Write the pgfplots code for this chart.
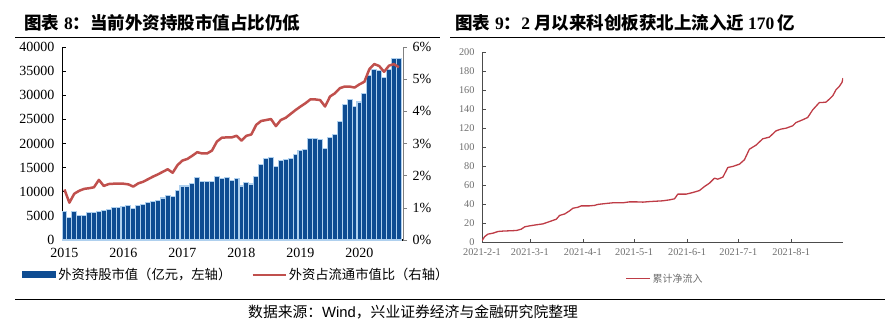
\documentclass[border=0pt]{standalone}
\usepackage{fontspec}
\setmainfont{Liberation Serif}
\newfontfamily\cjk{Noto Sans CJK SC}
\newfontfamily\arialf{Liberation Sans}
\usepackage{pgfplots}
\usepackage{pgfplotstable}
\pgfplotsset{compat=1.18}
\definecolor{barblue}{RGB}{14,76,146}
\definecolor{barlight}{RGB}{175,208,238}
\definecolor{linered}{RGB}{192,80,77}
\definecolor{linetwo}{RGB}{190,60,70}
\definecolor{axgray}{RGB}{128,128,128}
\definecolor{txtgray}{RGB}{110,110,110}

\pgfplotstableread{
idx val
0 6000
1 4600
2 6000
3 5000
4 5000
5 5700
6 5700
7 5900
8 6100
9 6300
10 6700
11 6700
12 6900
13 7200
14 6600
15 7100
16 7400
17 7800
18 7900
19 8100
20 8700
21 9300
22 9100
23 10200
24 11200
25 11200
26 11700
27 12900
28 12100
29 12100
30 12100
31 13200
32 12800
33 13000
34 12300
35 12800
36 11200
37 11900
38 11600
39 13200
40 15700
41 16900
42 17100
43 15200
44 16400
45 16600
46 16900
47 17800
48 18500
49 18800
50 21000
51 21000
52 20900
53 19000
54 21200
55 21900
56 24600
57 28100
58 29100
59 27600
60 28600
61 30300
62 34100
63 35300
64 35200
65 33700
66 35300
67 37600
68 37600
}\bars

\pgfplotstableread{
idx pct
0 1.57
1 1.16
2 1.44
3 1.53
4 1.59
5 1.61
6 1.64
7 1.87
8 1.68
9 1.74
10 1.75
11 1.75
12 1.75
13 1.73
14 1.66
15 1.76
16 1.81
17 1.89
18 1.97
19 2.04
20 2.12
21 2.20
22 2.09
23 2.33
24 2.47
25 2.52
26 2.62
27 2.73
28 2.69
29 2.69
30 2.78
31 3.06
32 3.18
33 3.19
34 3.19
35 3.24
36 3.09
37 3.24
38 3.28
39 3.58
40 3.70
41 3.73
42 3.76
43 3.54
44 3.73
45 3.80
46 3.92
47 4.04
48 4.15
49 4.25
50 4.37
51 4.37
52 4.35
53 4.15
54 4.46
55 4.56
56 4.72
57 4.77
58 4.77
59 4.74
60 4.84
61 4.92
62 5.31
63 5.47
64 5.41
65 5.23
66 5.42
67 5.47
68 5.37
}\ratio

\pgfplotstableread{
day val
0 2
1.6 6.3
3.5 8.8
6.4 9.8
9.4 11.6
12.3 12
16.2 12.3
20.1 12.6
23 14
25 16.5
27.9 17.5
31.8 18.6
35.7 19.6
39.6 22
43.5 24.5
45.4 28.4
48.4 30
51.3 33.3
53.2 36
56.1 37
58.1 38.5
63 38.5
65.9 39
67.8 40
72.7 41
76.6 41.7
82.5 41.7
86.4 42.7
90.3 42.7
94.2 42.4
98.1 43
102 43.4
105.9 43.8
109.8 44.8
112.7 45.9
114.6 50.8
119.5 50.8
123.4 52.5
127.3 54.6
130.2 58.8
133.1 62.3
136.1 67.6
138 66.5
141 68.7
143.9 78.8
146.8 79.9
150.7 82.3
153.6 86.9
156.5 98
160.4 102.3
164.3 108.9
168.2 110.7
172.1 117.3
175 119.1
178 120.1
181.9 122.6
183.8 126
187.7 128.9
190.6 131.3
193.6 139.4
197.5 147.1
199.4 147.1
201.4 147.5
203.3 150.6
205.3 154.1
207.2 160.4
209.1 163.9
210.7 168.1
211.3 172.7
}\flow

\begin{document}
\begin{tikzpicture}
\path[use as bounding box] (0pt,0pt) rectangle (892pt,-332pt);

% titles and rules
\node[anchor=base west, inner sep=0pt] at (24pt,-30pt)
  {\fontsize{17.5}{19}\selectfont\cjk\bfseries 图表\hspace{5pt}{\rmfamily\bfseries 8}：当前外资持股市值占比仍低};
\node[anchor=base west, inner sep=0pt] at (455pt,-30pt)
  {\fontsize{17.5}{19}\selectfont\cjk\bfseries 图表\hspace{5pt}{\rmfamily\bfseries 9}：{\rmfamily\bfseries 2}\hspace{4pt}月以来科创板获北上流入近\hspace{4pt}{\rmfamily\bfseries 170}\hspace{3pt}亿};
\draw[line width=1pt] (15pt,-37pt) -- (440pt,-37pt);
\draw[line width=1pt] (450pt,-37pt) -- (885pt,-37pt);
\draw[line width=1pt] (15pt,-299pt) -- (885pt,-299pt);
\node[anchor=base west, inner sep=0pt] at (248pt,-317pt)
  {\fontsize{14.8}{16}\selectfont\cjk 数据来源：{\arialf Wind}，兴业证券经济与金融研究院整理};

% left panel: bars
\begin{axis}[
  at={(62pt,-240pt)}, anchor=south west,
  scale only axis, width=341pt, height=193pt,
  xmin=-0.5, xmax=68.85, ymin=0, ymax=40000,
  scaled y ticks=false, scaled x ticks=false,
  axis x line*=bottom, axis y line*=left,
  x axis line style={black, line width=1.2pt},
  y axis line style={black, line width=0.8pt},
  xtick={0,12,24,36,48,60},
  xticklabels={2015,2016,2017,2018,2019,2020},
  ytick={0,5000,10000,15000,20000,25000,30000,35000,40000},
  yticklabels={0,5000,10000,15000,20000,25000,30000,35000,40000},
  xtick style={draw=none},
  ytick style={black, line width=0.6pt},
  major tick length=4pt,
  tick label style={font=\fontsize{14}{16}\selectfont},
  yticklabel style={xshift=-4pt},
  xticklabel style={yshift=-5pt},
  legend style={at={(-0.117,-0.181)}, anchor=west, draw=none, fill=none,
    font=\fontsize{13.3}{15}\selectfont\cjk, inner sep=0pt,
    /tikz/every even column/.append style={column sep=18pt}},
  legend columns=2,
  legend cell align=left,
]
\addplot[ybar, bar width=1, fill=barblue, draw=barlight, line width=1.1pt,
  legend image code/.code={\fill[barblue] (0pt,-3pt) rectangle (33pt,3pt);}]
  table[x=idx, y=val] {\bars};
\addlegendentry{外资持股市值（亿元，左轴）}
\addlegendimage{legend image code/.code={\draw[linered, line width=2.5pt] (0pt,0pt) -- (33pt,0pt);}}
\addlegendentry{外资占流通市值比（右轴）}
\end{axis}

% left panel: ratio line
\begin{axis}[
  at={(62pt,-240pt)}, anchor=south west,
  scale only axis, width=341pt, height=193pt,
  xmin=-0.5, xmax=68.85, ymin=0, ymax=6,
  axis x line=none, axis y line*=right,
  y axis line style={axgray, line width=0.8pt},
  ytick={0,1,2,3,4,5,6},
  yticklabels={0\%,1\%,2\%,3\%,4\%,5\%,6\%},
  tick align=outside,
  ytick style={axgray, line width=0.6pt},
  major tick length=4pt,
  tick label style={font=\fontsize{14}{16}\selectfont},
  yticklabel style={xshift=2pt},
]
\addplot[linered, line width=2.5pt, no marks, line join=round] table[x=idx, y=pct] {\ratio};
\end{axis}

% right panel
\begin{axis}[
  at={(482pt,-242.5pt)}, anchor=south west,
  scale only axis, width=361pt, height=190.4pt,
  xmin=0, xmax=211.3, ymin=0, ymax=200,
  axis x line*=bottom, axis y line*=left,
  axis line style={black!70, line width=0.7pt},
  xtick={0,28,59,89,120,150,181},
  xticklabels={2021-2-1,2021-3-1,2021-4-1,2021-5-1,2021-6-1,2021-7-1,2021-8-1},
  ytick={0,20,40,60,80,100,120,140,160,180,200},
  yticklabels={0,20,40,60,80,100,120,140,160,180,200},
  tick style={black!70, line width=0.6pt},
  major tick length=4pt,
  tick label style={font=\fontsize{10.3}{12}\selectfont, text=txtgray},
  yticklabel style={xshift=-4pt},
  xticklabel style={yshift=-3pt},
  legend style={at={(0.507,-0.19)}, anchor=center, draw=none, fill=none,
    font=\fontsize{10}{12}\selectfont\cjk\color{txtgray}, inner sep=0pt},
]
\addplot[linetwo, line width=1.3pt, no marks, line join=round,
  legend image code/.code={\draw[linetwo, line width=1.3pt] (0pt,0pt) -- (24pt,0pt);}]
  table[x=day, y=val] {\flow};
\addlegendentry{累计净流入}
\end{axis}
\end{tikzpicture}
\end{document}
